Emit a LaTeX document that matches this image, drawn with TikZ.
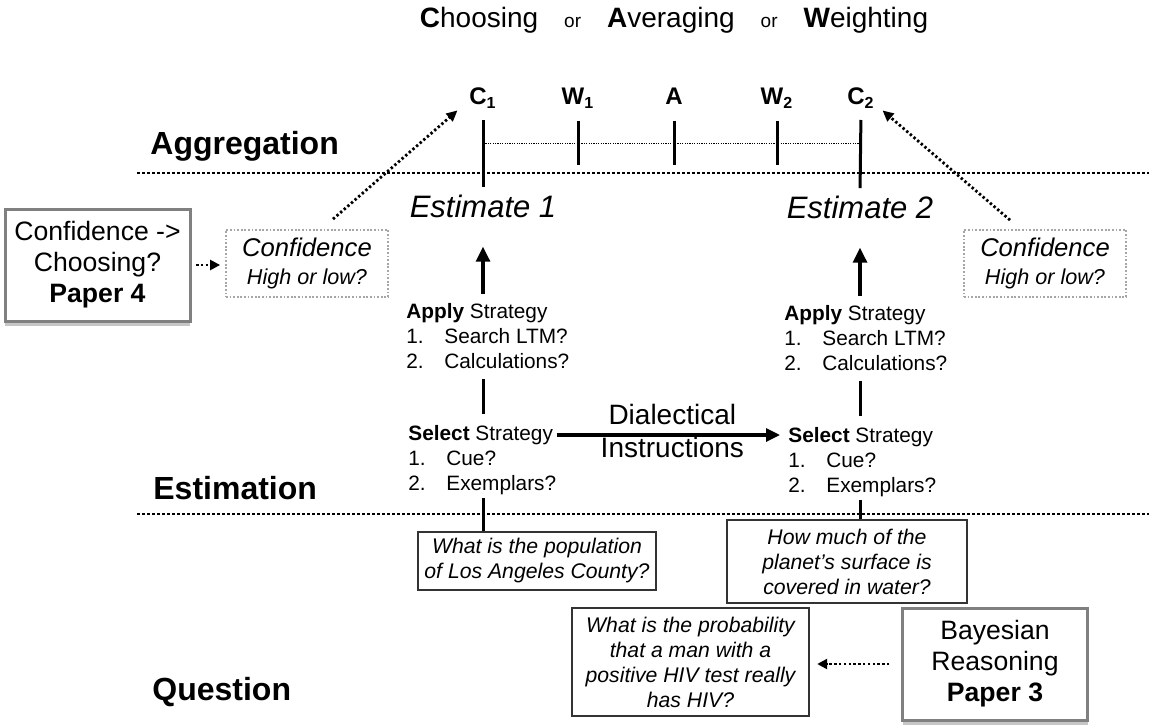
\documentclass[tikz,border=0pt]{standalone}
\usepackage{fontspec}
\setmainfont{Liberation Sans}
\usetikzlibrary{arrows.meta,shadows}
\newcommand{\strategy}[3]{\begin{tabular}[t]{@{}l@{}}#1\\\makebox[19pt][l]{1.}#2\\\makebox[19pt][l]{2.}#3\end{tabular}}

\begin{document}
\begin{tikzpicture}[x=0.5pt,y=-0.5pt,
    level/.style={font=\fontsize{16}{19}\selectfont\bfseries,anchor=base west,inner sep=0},
    sep/.style={line width=0.6pt,dash pattern=on 1.5pt off 1pt},
    agg/.style={font=\fontsize{12}{14}\selectfont\bfseries,anchor=base,inner sep=1pt},
    tick/.style={line width=1.5pt},
    est/.style={font=\fontsize{15.5}{18}\selectfont\itshape,anchor=base,inner sep=1pt},
    strat/.style={font=\fontsize{10.4}{12.5}\selectfont,anchor=base west,inner sep=0},
    bigarrow/.style={line width=1.6pt,-{Triangle[length=7.5pt,width=7pt]}},
    dotarrow/.style={line width=1.4pt,dash pattern=on 1.2pt off 1.2pt,-{Triangle[length=5.5pt,width=5pt]}},
    confbox/.style={draw=black!35,line width=0.9pt,dash pattern=on 0.9pt off 0.9pt,minimum width=81pt,minimum height=33.5pt,align=center,inner sep=1pt,font=\fontsize{12.8}{14}\selectfont\itshape},
    paperbox/.style={draw=black!50,line width=1.5pt,fill=white,minimum width=92.5pt,minimum height=56pt,align=center,font=\fontsize{13.3}{15.5}\selectfont,drop shadow={opacity=0.45,shadow xshift=0pt,shadow yshift=-2.5pt}},
    qbox/.style={draw=black!80,line width=0.6pt,align=center,inner sep=1pt,font=\fontsize{10.6}{12.5}\selectfont\itshape}]
    \useasboundingbox(0,0)rectangle(1149,727);
    % title and levels
    \node[anchor=base,font=\fontsize{14}{17}\selectfont](title)at(674,28){\textbf{C}hoosing\hspace{13pt}{\fontsize{9.5}{11}\selectfont or}\hspace{13pt}\textbf{A}veraging\hspace{13pt}{\fontsize{9.5}{11}\selectfont or}\hspace{13pt}\textbf{W}eighting};
    \node[level](aggr)at(150,155){Aggregation};
    \node[level](estim)at(153,499){Estimation};
    \node[level](quest)at(152,700){Question};
    \draw[sep](137,173)--(1149,173);
    \draw[sep](137,514)--(1149,514);
    % aggregation scale
    \node[agg](c1)at(483,105){C\textsubscript{1}};
    \node[agg](w1)at(578,105){W\textsubscript{1}};
    \node[agg](a)at(674,105){A};
    \node[agg](w2)at(777,105){W\textsubscript{2}};
    \node[agg](c2)at(861,105){C\textsubscript{2}};
    \coordinate(scaleL)at(483,143);
    \coordinate(scaleR)at(861,143);
    \draw[line width=0.4pt,dash pattern=on 0.6pt off 0.6pt](scaleL)--(scaleR);
    \foreach \n in {w1,a,w2}\draw[tick]([yshift=11pt]\n|-scaleL)--([yshift=-11pt]\n|-scaleL);
    % estimates
    \node[est](est1)at(483,218){Estimate 1};
    \node[est](est2)at(860,219){Estimate 2};
    \draw[tick,shorten <=4.5pt,shorten >=3pt](c1.south)--(est1.north);
    \draw[tick,shorten <=4.5pt,shorten >=3pt](c2.south)--(est2.north);
    % strategies
    \node[strat](apply1)at(406,318){\strategy{\textbf{Apply} Strategy}{Search LTM?}{Calculations?}};
    \node[strat](sel1)at(408,440){\strategy{\textbf{Select} Strategy}{Cue?}{Exemplars?}};
    \node[strat](apply2)at(784,320){\strategy{\textbf{Apply} Strategy}{Search LTM?}{Calculations?}};
    \node[strat](sel2)at(788,442){\strategy{\textbf{Select} Strategy}{Cue?}{Exemplars?}};
    \draw[bigarrow,shorten <=3pt,shorten >=13pt](apply1.north-|est1)--(est1.south);
    \draw[bigarrow,shorten <=3pt,shorten >=13pt](apply2.north-|est2)--(est2.south);
    \draw[tick,shorten <=1.5pt,shorten >=4pt](apply1.south-|est1)--(sel1.north-|est1);
    \draw[tick,shorten <=1.5pt,shorten >=4pt](apply2.south-|est2)--(sel2.north-|est2);
    \draw[bigarrow,-{Triangle[length=7pt,width=6.5pt]},shorten >=4pt]([yshift=2.5pt]sel1.base east)--([yshift=2.5pt]sel1.base east-|sel2.west)node[midway,yshift=2pt,font=\fontsize{14}{16.5}\selectfont,align=center]{Dialectical\\Instructions};
    % questions
    \node[qbox,minimum width=119pt,minimum height=29pt](q1)at(537,561){What is the population\\of Los Angeles County?};
    \node[qbox,minimum width=120pt,minimum height=41.5pt](q2)at(847,561.5){How much of the\\planet's surface is\\covered in water?};
    \node[qbox,minimum width=118.5pt,minimum height=54pt](q3)at(690.5,662){What is the probability\\that a man with a\\positive HIV test really\\has HIV?};
    \draw[tick](sel1.south-|est1)--(q1.north-|est1);
    \draw[tick](sel2.south-|est2)--(q2.north-|est2);
    % confidence
    \node[confbox](conf1)at(307,263.5){Confidence\\{\fontsize{10.8}{14}\selectfont High or low?}};
    \node[confbox](conf2)at(1045,263.5){Confidence\\{\fontsize{10.8}{14}\selectfont High or low?}};
    \draw[dotarrow]([shift={(26,-10)}]conf1.north)--([shift={(-9.5,12)}]c1.west);
    \draw[dotarrow]([shift={(-35,-9)}]conf2.north)--([shift={(5.5,12)}]c2.east);
    % papers
    \node[paperbox](paper4)at(97.5,265){Confidence ->\\Choosing?\\\textbf{Paper 4}};
    \node[paperbox](paper3)at(995,664){Bayesian\\Reasoning\\\textbf{Paper 3}};
    \draw[dotarrow,line width=1.2pt,-{Triangle[length=5pt,width=5pt]},shorten <=2.3pt,shorten >=2.5pt](paper4.east)--(paper4.east-|conf1.west);
    \draw[dotarrow,line width=1.2pt,-{Triangle[length=5pt,width=5pt]},shorten <=5.8pt,shorten >=3.8pt](paper3.west)--(paper3.west-|q3.east);
\end{tikzpicture}
\end{document}
